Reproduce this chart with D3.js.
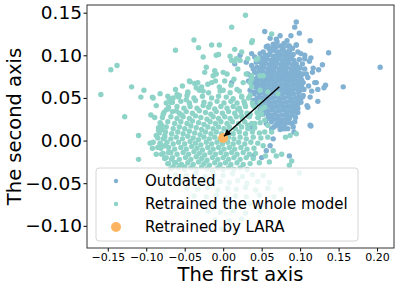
<!DOCTYPE html>
<html>
<head>
<meta charset="utf-8">
<script src="https://cdn.jsdelivr.net/npm/d3@7"></script>
<style>
body { margin: 0; background: #fff; }
text { font-family: "DejaVu Sans", sans-serif; fill: #000; }
</style>
</head>
<body>
<svg id="chart" width="398" height="288"></svg>
<script>
// tick labels
var xTicks = [-0.15, -0.10, -0.05, 0.00, 0.05, 0.10, 0.15, 0.20];
var yTicks = [-0.10, -0.05, 0.00, 0.05, 0.10, 0.15];

var seriesNames = ["Outdated", "Retrained the whole model", "Retrained by LARA"];

// outdated model embeddings (blue)
var outdated = [
  [0.062,0.105],[0.067,0.106],[0.072,0.104],[0.077,0.106],[0.081,0.104],
  [0.055,0.100],[0.060,0.101],[0.065,0.099],[0.070,0.101],[0.075,0.100],[0.080,0.099],[0.085,0.101],[0.089,0.099],
  [0.052,0.095],[0.057,0.096],[0.062,0.094],[0.067,0.095],[0.072,0.096],[0.077,0.094],[0.082,0.095],[0.087,0.096],[0.092,0.094],
  [0.050,0.090],[0.055,0.091],[0.060,0.089],[0.065,0.090],[0.070,0.091],[0.075,0.089],[0.080,0.090],[0.085,0.091],[0.090,0.089],[0.095,0.090],
  [0.048,0.085],[0.053,0.086],[0.058,0.084],[0.063,0.085],[0.068,0.086],[0.073,0.084],[0.078,0.085],[0.083,0.086],[0.088,0.084],[0.093,0.085],[0.097,0.086],
  [0.046,0.080],[0.051,0.081],[0.056,0.079],[0.061,0.080],[0.066,0.081],[0.071,0.079],[0.076,0.080],[0.081,0.081],[0.086,0.079],[0.091,0.080],[0.096,0.081],[0.099,0.079],
  [0.045,0.075],[0.050,0.076],[0.055,0.074],[0.060,0.075],[0.065,0.076],[0.070,0.074],[0.075,0.075],[0.080,0.076],[0.085,0.074],[0.090,0.075],[0.095,0.076],[0.100,0.074],
  [0.044,0.070],[0.049,0.071],[0.054,0.069],[0.059,0.070],[0.064,0.071],[0.069,0.069],[0.074,0.070],[0.079,0.071],[0.084,0.069],[0.089,0.070],[0.094,0.071],[0.099,0.069],
  [0.045,0.065],[0.050,0.066],[0.055,0.064],[0.060,0.065],[0.065,0.066],[0.070,0.064],[0.075,0.065],[0.080,0.066],[0.085,0.064],[0.090,0.065],[0.095,0.066],[0.101,0.064],
  [0.046,0.060],[0.051,0.061],[0.056,0.059],[0.061,0.060],[0.066,0.061],[0.071,0.059],[0.076,0.060],[0.081,0.061],[0.086,0.059],[0.091,0.060],[0.096,0.061],[0.100,0.059],
  [0.047,0.055],[0.052,0.056],[0.057,0.054],[0.062,0.055],[0.067,0.056],[0.072,0.054],[0.077,0.055],[0.082,0.056],[0.087,0.054],[0.092,0.055],[0.098,0.056],
  [0.049,0.050],[0.054,0.051],[0.059,0.049],[0.064,0.050],[0.069,0.051],[0.074,0.049],[0.079,0.050],[0.084,0.051],[0.089,0.049],[0.094,0.050],[0.098,0.051],
  [0.052,0.045],[0.057,0.046],[0.062,0.044],[0.067,0.045],[0.072,0.046],[0.077,0.044],[0.082,0.045],[0.087,0.046],[0.092,0.044],[0.096,0.045],
  [0.055,0.040],[0.060,0.041],[0.065,0.039],[0.070,0.040],[0.075,0.041],[0.080,0.039],[0.085,0.040],[0.090,0.041],[0.094,0.039],
  [0.058,0.035],[0.063,0.036],[0.068,0.034],[0.073,0.035],[0.078,0.036],[0.083,0.034],[0.088,0.035],[0.092,0.036],
  [0.062,0.030],[0.067,0.031],[0.072,0.029],[0.077,0.030],[0.082,0.031],[0.087,0.029],[0.090,0.030],
  [0.066,0.025],[0.071,0.026],[0.076,0.024],[0.081,0.025],[0.086,0.026],
  [0.070,0.020],[0.075,0.021],[0.080,0.019],
  [0.058,0.111],[0.065,0.113],[0.074,0.111],[0.079,0.114],[0.083,0.117],[0.070,0.116],
  [0.040,0.072],[0.041,0.080],[0.042,0.063],[0.040,0.055],[0.044,0.050],[0.046,0.093],[0.044,0.086],
  [0.104,0.068],[0.105,0.060],[0.103,0.078],[0.100,0.085],[0.099,0.095],[0.104,0.053],
  [0.066,0.016],[0.078,0.014],[0.085,0.021],[0.058,0.026],[0.094,0.027],[0.054,0.034],
  [0.095,0.139],[0.093,0.133],[0.099,0.126],[0.088,0.123],[0.113,0.117],[0.086,0.111],[0.090,0.108],[0.095,0.112],
  [0.137,0.103],[0.097,0.104],[0.101,0.102],[0.106,0.100],[0.106,0.096],[0.114,0.097],[0.112,0.093],[0.129,0.089],
  [0.117,0.085],[0.124,0.083],[0.204,0.086],[0.116,0.080],[0.103,0.090],[0.106,0.084],[0.108,0.078],[0.101,0.076],
  [0.110,0.074],[0.119,0.068],[0.121,0.068],[0.133,0.065],[0.131,0.062],[0.156,0.063],[0.111,0.064],[0.115,0.058],
  [0.123,0.060],[0.113,0.051],[0.103,0.051],[0.123,0.046],[0.101,0.045],[0.097,0.043],[0.109,0.041],[0.110,0.039],
  [0.090,0.033],[0.096,0.033],[0.093,0.022],[0.089,0.020],[0.114,0.017],
  [0.054,0.128],[0.061,0.120],[0.069,0.119],[0.074,0.123],[0.084,0.111],[0.095,0.112],[0.056,0.110],[0.063,0.108],
  [0.069,0.110],[0.048,0.102],[0.052,0.104],[0.041,0.098],[0.043,0.092],[0.037,0.088],[0.039,0.084],[0.032,0.078],
  [0.036,0.076],[0.033,0.070],[0.039,0.067],[0.035,0.059],[0.041,0.057],[0.039,0.047],[0.043,0.043],[0.048,0.037],
  [0.052,0.031],[0.063,0.022],[0.069,0.018],[0.080,0.020],[0.076,0.024],[0.084,0.014],[0.091,0.016],[0.097,0.033],
  [0.113,0.018],[0.074,0.016],[0.056,0.020],[0.063,0.014],[0.036,0.016],[0.032,0.029],
  [0.050,-0.020],[0.086,-0.018],[0.039,-0.018],[0.092,0.010],
  [0.022,0.100],[0.030,0.092],[0.015,0.090],[0.011,0.068],[0.037,0.102],[0.045,0.072],
  [0.074,0.013],[0.080,0.014],[0.061,-0.006],[0.065,0.002],[0.056,-0.012],
  [0.078,0.109],[0.086,0.105],[0.091,0.101],[0.060,0.107],[0.050,0.097],[0.042,0.068],[0.102,0.071],[0.102,0.063],
  [0.100,0.048],[0.097,0.038],[0.050,0.040],[0.046,0.046],[0.059,0.030],[0.064,0.027],[0.084,0.028],[0.095,0.083]
];

// whole-model retrained embeddings (teal)
var retrained = [
  [-0.046,0.057],[-0.031,0.059],[-0.019,0.056],[-0.004,0.058],[0.009,0.056],[0.021,0.058],
  [-0.058,0.051],[-0.047,0.053],[-0.038,0.050],[-0.027,0.052],[-0.015,0.050],[-0.006,0.052],[0.004,0.051],[0.013,0.049],[0.024,0.052],[0.033,0.050],
  [-0.066,0.045],[-0.055,0.046],[-0.044,0.044],[-0.036,0.047],[-0.025,0.045],[-0.017,0.043],[-0.008,0.046],[0.001,0.044],[0.010,0.046],[0.018,0.044],[0.027,0.046],[0.038,0.044],
  [-0.071,0.039],[-0.060,0.040],[-0.051,0.038],[-0.043,0.040],[-0.034,0.038],[-0.026,0.041],[-0.019,0.039],[-0.011,0.037],[-0.003,0.040],[0.005,0.038],[0.013,0.040],[0.021,0.038],[0.029,0.040],[0.041,0.039],
  [-0.077,0.033],[-0.066,0.034],[-0.057,0.032],[-0.048,0.034],[-0.040,0.032],[-0.031,0.035],[-0.023,0.033],[-0.016,0.031],[-0.009,0.034],[-0.001,0.032],[0.007,0.034],[0.015,0.032],[0.023,0.034],[0.031,0.032],[0.044,0.033],
  [-0.079,0.027],[-0.068,0.028],[-0.060,0.026],[-0.052,0.028],[-0.044,0.026],[-0.036,0.029],[-0.029,0.027],[-0.021,0.025],[-0.013,0.028],[-0.006,0.026],[0.002,0.028],[0.009,0.026],[0.017,0.028],[0.025,0.026],[0.034,0.028],[0.046,0.027],
  [-0.082,0.021],[-0.072,0.022],[-0.063,0.020],[-0.055,0.022],[-0.047,0.020],[-0.040,0.023],[-0.032,0.021],[-0.025,0.019],[-0.017,0.022],[-0.010,0.020],[-0.003,0.022],[0.005,0.020],[0.012,0.022],[0.020,0.020],[0.028,0.022],[0.037,0.020],[0.048,0.021],
  [-0.084,0.015],[-0.074,0.016],[-0.065,0.014],[-0.057,0.016],[-0.050,0.014],[-0.042,0.017],[-0.035,0.015],[-0.028,0.013],[-0.020,0.016],[-0.013,0.014],[-0.006,0.016],[0.001,0.014],[0.008,0.016],[0.016,0.014],[0.024,0.016],[0.032,0.014],[0.041,0.015],
  [-0.083,0.009],[-0.075,0.010],[-0.067,0.008],[-0.059,0.010],[-0.052,0.008],[-0.044,0.011],[-0.037,0.009],[-0.030,0.007],[-0.023,0.010],[-0.016,0.008],[-0.009,0.010],[-0.002,0.008],[0.006,0.010],[0.013,0.008],[0.021,0.010],[0.029,0.008],[0.038,0.010],[0.047,0.009],
  [-0.085,0.003],[-0.076,0.004],[-0.068,0.002],[-0.061,0.004],[-0.053,0.002],[-0.046,0.005],[-0.039,0.003],[-0.032,0.001],[-0.025,0.004],[-0.018,0.002],[-0.011,0.004],[-0.004,0.002],[0.007,0.004],[0.014,0.002],[0.022,0.004],[0.030,0.002],[0.039,0.004],[0.049,0.003],
  [-0.082,-0.003],[-0.073,-0.002],[-0.065,-0.004],[-0.058,-0.002],[-0.050,-0.004],[-0.043,-0.001],[-0.036,-0.003],[-0.029,-0.005],[-0.022,-0.002],[-0.015,-0.004],[-0.008,-0.002],[-0.001,-0.004],[0.006,-0.002],[0.013,-0.004],[0.020,-0.002],[0.028,-0.004],[0.036,-0.002],[0.045,-0.003],
  [-0.081,-0.009],[-0.071,-0.008],[-0.063,-0.010],[-0.055,-0.008],[-0.048,-0.010],[-0.041,-0.007],[-0.034,-0.009],[-0.027,-0.011],[-0.020,-0.008],[-0.013,-0.010],[-0.006,-0.008],[0.001,-0.010],[0.008,-0.008],[0.015,-0.010],[0.023,-0.008],[0.031,-0.010],[0.040,-0.009],
  [-0.078,-0.015],[-0.068,-0.014],[-0.060,-0.016],[-0.052,-0.014],[-0.045,-0.016],[-0.038,-0.013],[-0.031,-0.015],[-0.024,-0.017],[-0.017,-0.014],[-0.010,-0.016],[-0.003,-0.014],[0.004,-0.016],[0.011,-0.014],[0.018,-0.016],[0.026,-0.014],[0.034,-0.016],[0.042,-0.015],
  [-0.076,-0.021],[-0.066,-0.020],[-0.057,-0.022],[-0.049,-0.020],[-0.042,-0.022],[-0.035,-0.019],[-0.028,-0.021],[-0.021,-0.023],[-0.014,-0.020],[-0.007,-0.022],[0.000,-0.020],[0.007,-0.022],[0.014,-0.020],[0.022,-0.022],[0.030,-0.020],[0.039,-0.021],
  [-0.072,-0.027],[-0.062,-0.026],[-0.054,-0.028],[-0.046,-0.026],[-0.039,-0.028],[-0.032,-0.025],[-0.025,-0.027],[-0.018,-0.029],[-0.011,-0.026],[-0.004,-0.028],[0.003,-0.026],[0.010,-0.028],[0.018,-0.026],[0.026,-0.028],[0.035,-0.027],
  [-0.068,-0.033],[-0.058,-0.032],[-0.050,-0.034],[-0.042,-0.032],[-0.035,-0.034],[-0.028,-0.031],[-0.021,-0.033],[-0.014,-0.035],[-0.007,-0.032],[0.000,-0.034],[0.007,-0.032],[0.014,-0.034],[0.022,-0.032],[0.031,-0.034],
  [-0.062,-0.040],[-0.048,-0.041],[-0.036,-0.039],[-0.024,-0.042],[-0.012,-0.040],[0.000,-0.041],[0.012,-0.039],[0.025,-0.042],[0.038,-0.040],[0.052,-0.041],
  [-0.055,-0.048],[-0.040,-0.049],[-0.028,-0.047],[-0.015,-0.050],[-0.004,-0.048],[0.008,-0.049],[0.019,-0.047],[0.031,-0.050],[0.045,-0.048],[0.060,-0.049],
  [-0.047,-0.056],[-0.033,-0.057],[-0.020,-0.055],[-0.007,-0.058],[0.006,-0.056],[0.017,-0.057],[0.029,-0.055],[0.042,-0.058],[0.058,-0.056],[0.075,-0.057],
  [-0.038,-0.065],[-0.022,-0.066],[-0.009,-0.064],[0.004,-0.067],[0.016,-0.065],[0.030,-0.066],[0.047,-0.064],[0.066,-0.066],
  [-0.030,-0.074],[-0.013,-0.075],[0.002,-0.073],[0.018,-0.076],[0.035,-0.074],[0.054,-0.075],
  [-0.020,-0.083],[-0.004,-0.084],[0.013,-0.082],[0.029,-0.085],[0.048,-0.083],
  [-0.010,-0.093],[0.008,-0.094],[0.024,-0.092],[-0.002,-0.104],[0.016,-0.106],
  [-0.062,0.106],[-0.146,0.083],[-0.138,0.088],[-0.159,0.054],[-0.119,0.063],[-0.103,0.059],[-0.107,0.051],[-0.092,0.051],
  [-0.091,0.050],[-0.082,0.055],[-0.072,0.052],[-0.074,0.044],[-0.068,0.045],[-0.065,0.050],[-0.062,0.060],[-0.060,0.054],
  [-0.057,0.053],[-0.053,0.064],[-0.046,0.056],[-0.043,0.069],[-0.128,0.028],[-0.094,0.030],[-0.074,0.036],[-0.061,0.035],
  [-0.054,0.030],[-0.048,0.048],[-0.110,0.006],[-0.095,-0.003],[-0.110,-0.022],[-0.091,-0.002],[-0.092,-0.009],[-0.084,0.012],
  [-0.080,0.013],[-0.087,0.006],[-0.078,0.002],[-0.082,-0.004],[-0.076,-0.006],[-0.071,-0.014],[-0.080,-0.016],[-0.074,-0.020],
  [-0.067,-0.022],[-0.063,-0.026],[-0.056,-0.029],[-0.050,-0.031],[-0.065,-0.031],[-0.071,-0.027],
  [-0.087,0.041],[-0.089,0.027],[-0.078,0.031],[-0.072,0.037],[-0.070,0.049],[-0.080,0.018],[-0.085,-0.008],[-0.076,0.006],[-0.087,-0.016],
  [0.029,0.147],[0.011,0.133],[0.063,0.125],[0.037,0.115],[0.038,0.117],[-0.015,0.112],[-0.005,0.112],[0.015,0.107],
  [0.024,0.104],[-0.026,0.098],[0.009,0.099],[0.011,0.094],[0.015,0.093],[0.043,0.095],[-0.022,0.086],[-0.011,0.082],
  [-0.013,0.076],[-0.024,0.080],[0.002,0.070],[-0.005,0.063],[0.000,0.059],[0.037,0.076],[0.035,0.068],[0.048,0.076],
  [0.058,0.057],[0.071,0.055],[0.048,0.045],[0.054,0.039],[0.050,0.031],[0.058,0.018],[0.063,0.010],[0.054,0.010],
  [0.081,0.004],[0.087,0.006],[0.095,0.008],
  [-0.038,0.118],[-0.032,0.109],[-0.009,0.100],[-0.006,0.101],[-0.009,0.078],[0.000,0.080],[-0.044,0.070],[-0.037,0.067],
  [-0.033,0.068],[-0.028,0.063],[0.017,0.096],[0.022,0.094],[0.032,0.096],[0.045,0.096],[0.019,0.084],[0.030,0.078],
  [0.037,0.072],[0.026,0.068],[0.037,0.063],[0.052,0.076],[0.048,0.059],[0.035,0.053],[0.024,0.051],[0.028,0.043],
  [0.039,0.041],[0.050,0.037],[0.019,0.037],[0.035,0.031],[0.045,0.027],[0.024,0.029],[0.054,0.024],[0.041,0.020],[0.032,0.018],
  [-0.035,0.062],[-0.020,0.066],[-0.010,0.070],[0.010,0.065],[0.018,0.060],[-0.026,0.058],[0.014,0.072],[0.005,0.078],[-0.015,0.068],
  [0.069,-0.018],[0.089,-0.024],[0.076,-0.016],[0.052,-0.006],[0.058,0.004],[0.065,-0.012],[0.055,-0.018],[0.047,-0.026],[0.060,-0.025],
  [0.086,-0.029],[0.099,-0.038]
];

// LARA retrained embedding (orange)
var lara = [[0.000, 0.003]];

// arrow annotation, data units
var arrowFrom = [0.073, 0.063];
var arrowTo = [0.001, 0.005];

var colors = ["#80b1d3", "#8dd3c7", "#fdb462"];

var svg = d3.select("#chart");

// plot box (window.top is read-only, so no bare "top")
var box = { left: 87, right: 394, top: 5, bottom: 248 };

var x = d3.scaleLinear().domain([-0.177, 0.222]).range([box.left, box.right]);
var y = d3.scaleLinear().domain([-0.126, 0.159]).range([box.bottom, box.top]);

var dotR = 2.7;

// points
var plot = svg.append("g");

plot.append("g").selectAll("circle")
    .data(outdated)
    .enter().append("circle")
    .attr("cx", function(d) { return x(d[0]); })
    .attr("cy", function(d) { return y(d[1]); })
    .attr("r", dotR)
    .attr("fill", colors[0]);

plot.append("g").selectAll("circle")
    .data(retrained)
    .enter().append("circle")
    .attr("cx", function(d) { return x(d[0]); })
    .attr("cy", function(d) { return y(d[1]); })
    .attr("r", dotR)
    .attr("fill", colors[1]);

plot.append("g").selectAll("circle")
    .data(lara)
    .enter().append("circle")
    .attr("cx", function(d) { return x(d[0]); })
    .attr("cy", function(d) { return y(d[1]); })
    .attr("r", 5)
    .attr("fill", colors[2]);

// arrow
svg.append("defs").append("marker")
    .attr("id", "head")
    .attr("viewBox", "0 0 10 10")
    .attr("refX", 10).attr("refY", 5)
    .attr("markerWidth", 8).attr("markerHeight", 7)
    .attr("markerUnits", "userSpaceOnUse")
    .attr("orient", "auto")
    .append("path").attr("d", "M0,0L10,5L0,10z").attr("fill", "#000");

svg.append("line")
    .attr("x1", x(arrowFrom[0])).attr("y1", y(arrowFrom[1]))
    .attr("x2", x(arrowTo[0])).attr("y2", y(arrowTo[1]))
    .attr("stroke", "#000").attr("stroke-width", 1.4)
    .attr("marker-end", "url(#head)");

// axes
var xAxis = svg.append("g")
    .attr("transform", "translate(0," + box.bottom + ")")
    .call(d3.axisBottom(x).tickValues(xTicks).tickSize(3.5).tickPadding(1.5).tickFormat(d3.format(".2f")));
xAxis.select(".domain").remove();
xAxis.selectAll("text").style("font-size", "11px");

var yAxis = svg.append("g")
    .attr("transform", "translate(" + box.left + ",0)")
    .call(d3.axisLeft(y).tickValues(yTicks).tickSize(3.5).tickPadding(1.5).tickFormat(d3.format(".2f")));
yAxis.select(".domain").remove();
yAxis.selectAll("text").style("font-size", "18.5px");

svg.append("rect")
    .attr("x", box.left).attr("y", box.top)
    .attr("width", box.right - box.left).attr("height", box.bottom - box.top)
    .attr("fill", "none").attr("stroke", "#333").attr("stroke-width", 1);

svg.append("text")
    .attr("x", (box.left + box.right) / 2).attr("y", 281)
    .attr("text-anchor", "middle")
    .style("font-size", "19.5px")
    .text("The first axis");

svg.append("text")
    .attr("transform", "translate(21," + (box.top + box.bottom) / 2 + ") rotate(-90)")
    .attr("text-anchor", "middle")
    .style("font-size", "19.5px")
    .text("The second axis");

// legend
var legend = svg.append("g");
legend.append("rect")
    .attr("x", 96).attr("y", 168).attr("width", 262).attr("height", 73)
    .attr("rx", 3)
    .attr("fill", "#fff").attr("fill-opacity", 0.8)
    .attr("stroke", "#d6d6d6").attr("stroke-width", 1);

var rows = legend.selectAll("g.row")
    .data(seriesNames)
    .enter().append("g")
    .attr("class", "row")
    .attr("transform", function(d, i) { return "translate(116," + (181 + i * 23) + ")"; });

rows.append("circle")
    .attr("r", function(d, i) { return i == 2 ? 5 : 2.2; })
    .attr("fill", function(d, i) { return colors[i]; });

rows.append("text")
    .attr("x", 29).attr("y", 5.4)
    .style("font-size", "15px")
    .text(function(d) { return d; });
</script>
</body>
</html>
